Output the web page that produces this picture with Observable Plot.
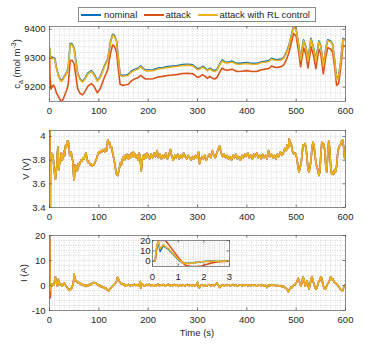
<!DOCTYPE html>
<html><head><meta charset="utf-8">
<script src="https://cdn.jsdelivr.net/npm/d3@7"></script>
<script src="https://cdn.jsdelivr.net/npm/@observablehq/plot@0.6"></script>
<style>
body{margin:0;background:#fff;}
#root{position:relative;width:381px;height:349px;font-family:"Liberation Sans",Arial,sans-serif;color:#262626;overflow:hidden;}
#root svg{position:absolute;}
.ylab{position:absolute;font-size:9.5px;white-space:nowrap;transform:translate(-50%,-50%) rotate(-90deg);line-height:1;}
.lab{position:absolute;font-size:9.5px;white-space:nowrap;line-height:1;}
#legend{position:absolute;left:78px;top:7px;width:236px;height:13px;border:1px solid #8a8a8a;background:#fff;}
#legend .sw{position:absolute;top:6px;width:20px;height:2px;}
#legend .tx{position:absolute;top:1.5px;font-size:9.5px;white-space:nowrap;line-height:1;}
</style></head><body><div id="root"></div>
<script>
// ---------- series ----------
const seriesNames = ["nominal", "attack", "attack with RL control"];
const seriesColors = ["#0072BD", "#D95319", "#EDB120"];

// ---------- panel 1: c_a ----------
const caTime = [0,1,3,6,8,11,14,18,22,25,30,35,38,42,46,50,53,57,62,67,72,78,85,90,97,103,110,118,124,128,132,136,139,143,148,155,160,165,170,175,180,185,190,195,200,210,220,230,240,250,260,270,280,290,295,300,305,310,315,320,325,330,335,340,345,350,355,360,365,370,380,390,400,410,420,430,440,445,450,455,460,470,475,480,485,490,495,500,505,509,515,520,524,530,535,540,546,550,555,560,564,570,574,578,582,586,590,595,600];
const caNominal = [9336,9313,9303,9303,9302,9299,9268,9242,9226,9223,9237,9251,9268,9352,9349,9334,9297,9249,9228,9220,9231,9249,9257,9246,9223,9237,9268,9297,9360,9383,9378,9360,9309,9244,9240,9242,9244,9254,9259,9263,9266,9274,9265,9259,9259,9260,9266,9268,9271,9273,9275,9278,9279,9277,9271,9263,9266,9272,9267,9259,9266,9260,9257,9263,9280,9294,9288,9286,9288,9290,9282,9283,9285,9282,9282,9288,9290,9292,9300,9297,9295,9297,9303,9320,9343,9378,9412,9401,9348,9297,9364,9338,9294,9369,9338,9292,9360,9343,9274,9333,9364,9360,9349,9293,9228,9238,9286,9369,9364];
const caAttack = [9334,9240,9193,9203,9207,9198,9180,9168,9155,9148,9168,9190,9210,9292,9293,9280,9245,9195,9178,9173,9185,9203,9212,9203,9180,9195,9228,9260,9320,9346,9340,9320,9270,9210,9206,9208,9210,9220,9226,9230,9233,9241,9233,9228,9228,9229,9235,9237,9240,9242,9244,9247,9248,9246,9241,9233,9237,9243,9238,9230,9237,9231,9228,9234,9252,9266,9260,9258,9260,9262,9254,9255,9257,9254,9254,9260,9263,9265,9273,9270,9268,9271,9277,9294,9317,9352,9386,9376,9322,9270,9337,9311,9266,9341,9310,9264,9332,9315,9246,9305,9336,9332,9320,9268,9206,9212,9262,9345,9340];
const caRL = [9334,9310,9299,9300,9299,9296,9265,9239,9223,9220,9234,9248,9265,9349,9346,9331,9294,9246,9225,9217,9228,9246,9254,9243,9220,9234,9265,9294,9357,9380,9375,9357,9306,9241,9237,9239,9241,9251,9256,9260,9263,9271,9262,9256,9256,9257,9263,9265,9268,9270,9272,9275,9276,9274,9268,9260,9263,9269,9264,9256,9263,9257,9254,9260,9277,9291,9285,9283,9285,9287,9279,9280,9282,9279,9279,9285,9287,9289,9297,9294,9292,9294,9300,9317,9340,9375,9409,9398,9345,9294,9361,9335,9291,9366,9335,9289,9357,9340,9271,9330,9361,9357,9346,9290,9225,9235,9283,9366,9361];
const caTicks = [9200, 9300, 9400];

// ---------- panel 2: V ----------
const vStartTime = [0, 0.3, 0.7, 1.2, 1.6, 2];
const vStartNominal = [3.85, 4.5, 4.15, 3.25, 3.3, 3.85];
const vStartAttack = [3.85, 4.6, 4.6, 3.1, 3.1, 3.85];
const vStartRL = [3.85, 4.5, 4.2, 3.2, 3.3, 3.85];
const vTail = [[3,3.83],[4,3.86],[5,3.82],[6,3.80],[7,3.84],[8,3.79],[9,3.74],[10,3.70],[11,3.66],[12,3.64],[13,3.68],[14,3.72],[15,3.76],[16,3.86],[17,3.91],[18,3.80],[19,3.72],[20,3.76],[21,3.80],[22,3.78],[23,3.83],[24,3.86],[25,3.84],[26,3.80],[27,3.85],[28,3.82],[29,3.86],[30,3.88],[31,3.84],[32,3.91],[33,3.93],[34,3.90],[35,3.94],[36,3.96],[37,3.95],[38,3.96],[39,3.93],[40,3.88],[41,3.84],[42,3.86],[43,3.84],[44,3.87],[45,3.83],[46,3.81],[47,3.80],[48,3.74],[49,3.66],[50,3.63],[51,3.70],[52,3.76],[53,3.72],[54,3.75],[55,3.71],[56,3.74],[57,3.72],[58,3.77],[60,3.75],[62,3.78],[64,3.80],[66,3.79],[68,3.82],[70,3.81],[72,3.84],[74,3.86],[76,3.81],[78,3.78],[80,3.79],[82,3.76],[84,3.77],[86,3.75],[88,3.76],[90,3.76],[92,3.78],[94,3.80],[96,3.82],[98,3.85],[100,3.87],[102,3.86],[104,3.88],[106,3.87],[108,3.89],[110,3.88],[112,3.87],[114,3.90],[116,3.88],[118,3.97],[120,3.94],[122,3.95],[124,3.90],[126,3.91],[128,3.86],[130,3.82],[132,3.78],[134,3.72],[136,3.68],[138,3.67],[140,3.70],[142,3.74],[144,3.78],[146,3.76],[148,3.81],[150,3.83],[152,3.80],[154,3.84],[156,3.82],[158,3.85],[160,3.81],[162,3.84],[164,3.82],[166,3.86],[168,3.83],[170,3.87],[172,3.83],[174,3.85],[176,3.82],[178,3.84],[180,3.80],[182,3.86],[184,3.80],[186,3.71],[188,3.80],[190,3.84],[192,3.81],[194,3.85],[196,3.82],[198,3.86],[200,3.83],[203,3.81],[206,3.85],[209,3.82],[212,3.86],[215,3.83],[218,3.88],[221,3.82],[224,3.85],[227,3.81],[230,3.84],[233,3.82],[236,3.86],[239,3.81],[242,3.84],[245,3.89],[248,3.83],[251,3.80],[254,3.84],[257,3.82],[260,3.85],[263,3.81],[266,3.84],[269,3.82],[272,3.86],[275,3.83],[278,3.81],[281,3.84],[284,3.82],[287,3.80],[290,3.83],[293,3.81],[296,3.84],[299,3.82],[302,3.87],[304,3.77],[306,3.80],[309,3.83],[312,3.81],[315,3.84],[318,3.80],[321,3.83],[324,3.85],[327,3.82],[330,3.88],[333,3.84],[336,3.82],[339,3.86],[342,3.89],[345,3.92],[348,3.86],[351,3.83],[354,3.85],[357,3.82],[360,3.84],[363,3.81],[366,3.83],[369,3.80],[372,3.84],[375,3.82],[378,3.85],[381,3.81],[384,3.83],[387,3.80],[390,3.84],[393,3.82],[396,3.85],[399,3.83],[402,3.86],[405,3.82],[408,3.84],[411,3.81],[414,3.85],[417,3.83],[420,3.86],[423,3.82],[426,3.84],[429,3.81],[432,3.85],[435,3.82],[438,3.84],[441,3.81],[444,3.88],[447,3.83],[450,3.85],[453,3.82],[456,3.84],[459,3.81],[462,3.85],[465,3.83],[468,3.87],[471,3.84],[474,3.86],[477,3.90],[480,3.88],[482,3.93],[484,3.90],[486,3.98],[488,3.92],[490,3.94],[492,3.88],[494,3.86],[496,3.85],[498,3.86],[500,3.84],[502,3.80],[504,3.73],[506,3.70],[508,3.74],[510,3.77],[512,3.85],[514,3.93],[516,3.92],[518,3.94],[520,3.90],[522,3.82],[524,3.72],[526,3.70],[528,3.74],[530,3.80],[532,3.90],[534,3.95],[536,3.93],[538,3.85],[540,3.78],[542,3.74],[544,3.72],[546,3.67],[548,3.70],[550,3.85],[552,3.95],[554,3.93],[556,3.94],[558,3.88],[560,3.75],[562,3.70],[564,3.85],[566,3.96],[568,3.90],[570,3.74],[572,3.68],[574,3.70],[576,3.68],[578,3.72],[580,3.70],[582,3.75],[584,3.85],[586,3.90],[588,3.92],[590,3.93],[592,3.96],[594,3.97],[596,3.92],[598,3.82],[600,3.84]];
const vTicks = [3.4, 3.6, 3.8, 4];

// ---------- panel 3: I (first 3 s also shown in the inset) ----------
const iStartTime = [0,0.1,0.15,0.22,0.3,0.35,0.42,0.5,0.6,0.8,1.0,1.15,1.3,1.5,1.7,1.9,2.1,2.3,2.5,2.8,3];
const iStartNominal = [0,0,11,19,9.5,12,15,13.5,12,7,1.5,-1,-2,-1.8,-1,-0.4,0,0.2,0.1,0,0];
const iStartAttack = [0,0,10,20,20,20,20,20,17,10.5,4,-0.5,-4,-5,-5,-4.5,-3,-1.5,-0.6,-0.1,0];
const iStartRL = [0,0,12,20,12,14,16,14,12.5,7.5,2,-0.8,-2,-2,-1.2,-0.5,-0.2,0,0,0,0];
const iTail = [[4,0.3],[5,0.6],[6,-0.2],[7,0.4],[8,0.1],[9,0.8],[10,1.2],[11,2.8],[12,3.5],[13,2.2],[14,1.5],[15,0.3],[16,-0.2],[17,0.8],[18,2.5],[19,1.2],[20,0.6],[21,0.9],[22,0.2],[24,0.5],[26,-0.3],[28,0.6],[30,1.0],[32,0.4],[34,-0.4],[36,-0.8],[38,-1.5],[40,-2.0],[42,-1.2],[44,-1.6],[46,-0.5],[48,0.8],[49,2.0],[50,4.5],[51,3.2],[52,2.4],[54,1.8],[56,1.5],[58,1.0],[60,1.2],[62,0.6],[64,0.8],[66,0.2],[68,0.4],[70,-0.1],[72,0.2],[74,-0.4],[76,0.1],[78,-0.2],[80,0.2],[82,0.5],[84,0.3],[86,0.8],[88,1.0],[90,1.2],[92,0.9],[94,1.1],[96,0.5],[98,0.2],[100,-0.2],[102,0.1],[104,-0.5],[106,-0.3],[108,-0.8],[110,-0.6],[112,-1.2],[114,-0.9],[116,-1.5],[118,-1.8],[120,-2.2],[122,-1.5],[124,-1.0],[126,-0.6],[128,-0.2],[130,0.2],[132,0.6],[134,1.0],[136,1.8],[138,3.3],[140,2.4],[142,1.5],[144,1.0],[146,0.5],[148,0.8],[150,0.2],[152,0.5],[154,-0.2],[156,0.3],[158,0.0],[160,0.4],[163,-0.2],[166,0.3],[169,-0.1],[172,0.5],[175,0.0],[178,0.3],[181,-0.3],[184,1.6],[185,-1.0],[187,0.8],[190,0.1],[193,-0.3],[196,0.4],[199,0.0],[202,0.5],[205,-0.2],[208,0.3],[211,-0.3],[214,0.2],[217,-0.1],[220,0.6],[223,-0.2],[226,0.3],[229,0.0],[232,0.4],[235,-0.3],[238,0.2],[241,0.5],[244,-0.3],[247,0.3],[250,-0.1],[253,0.4],[256,0.0],[259,0.3],[262,-0.4],[265,0.2],[268,-0.1],[271,0.3],[274,-0.2],[277,0.1],[280,0.4],[283,-0.1],[286,0.3],[289,-0.2],[292,0.2],[295,-0.1],[298,0.4],[300,1.3],[302,-0.6],[304,-1.0],[306,0.0],[309,0.3],[312,-0.2],[315,0.2],[318,-0.3],[321,0.1],[324,0.4],[327,-0.2],[330,0.2],[333,-0.1],[336,0.3],[339,1.0],[342,0.2],[345,-0.8],[348,0.0],[351,0.3],[354,-0.2],[357,0.2],[360,0.0],[363,0.3],[366,-0.2],[369,0.1],[372,0.4],[375,-0.1],[378,0.2],[381,-0.3],[384,0.1],[387,0.3],[390,-0.2],[393,0.2],[396,0.0],[399,0.3],[402,-0.2],[405,0.2],[408,-0.1],[411,0.3],[414,0.0],[417,0.2],[420,-0.3],[423,0.1],[426,0.3],[429,-0.1],[432,0.2],[435,-0.2],[438,0.1],[441,-0.8],[444,0.2],[447,-0.1],[450,0.3],[453,0.0],[456,0.2],[459,-0.2],[462,0.1],[465,-0.3],[468,0.0],[471,-0.6],[474,-0.2],[477,-0.8],[480,-1.2],[482,-1.6],[484,-2.5],[486,-1.8],[488,-1.2],[490,-0.5],[492,-0.8],[494,0.0],[496,0.4],[498,0.2],[500,1.0],[502,1.8],[504,2.9],[506,2.0],[508,0.5],[510,-0.2],[512,1.5],[514,3.5],[516,2.2],[518,-0.3],[520,0.5],[522,2.0],[524,0.3],[526,-1.5],[528,0.2],[530,2.5],[532,3.6],[534,2.0],[536,0.5],[538,-0.8],[540,-1.5],[542,-1.0],[544,0.5],[546,1.8],[548,2.0],[550,3.5],[552,3.0],[554,0.6],[556,-0.8],[558,-1.5],[560,-1.2],[562,-0.2],[564,0.8],[566,1.2],[568,2.2],[570,3.5],[572,2.4],[574,2.8],[576,1.8],[578,1.2],[580,1.0],[582,0.5],[584,0.2],[586,-0.5],[588,-1.0],[590,-1.6],[592,-1.8],[594,-2.2],[596,-1.0],[598,0.0],[600,0.4]];
const iTicks = [-10, 0, 10, 20];

const xTicks = [0, 100, 200, 300, 400, 500, 600];
const insetXTicks = [0, 1, 2, 3];
const insetYTicks = [0, 10, 20];

// ---------- helpers ----------
const rowsOf = (time, values) => time.map((t, i) => ({t, v: values[i]}));
const tailRows = (pairs) => pairs.map(([t, v]) => ({t, v}));

function makePanel(o) {
  const ph = o.height - o.mt - o.mb, pw = o.width - o.ml - o.mr;
  const grid = {stroke: "#c9c9c9", strokeWidth: 0.7, strokeDasharray: "1,1.4"};
  const marks = [];
  if (o.fill) marks.push(Plot.frame({fill: o.fill, stroke: null}));
  marks.push(Plot.ruleX(o.xGrid, {x: d => d, ...grid}));
  marks.push(Plot.ruleY(o.yGrid, {y: d => d, ...grid}));
  o.lines.forEach(l => marks.push(Plot.line(l.rows, {x: "t", y: "v", stroke: l.color, strokeWidth: o.lw, clip: true})));
  marks.push(Plot.frame({stroke: "#808080", strokeWidth: 0.9}));
  const tk = {stroke: "#555", strokeWidth: 0.8};
  marks.push(Plot.tickX(o.xTicks, {x: d => d, ...tk, insetTop: ph - 2.5}));
  marks.push(Plot.tickX(o.xTicks, {x: d => d, ...tk, insetBottom: ph - 2.5}));
  marks.push(Plot.tickY(o.yTicks, {y: d => d, ...tk, insetRight: pw - 2.5}));
  marks.push(Plot.tickY(o.yTicks, {y: d => d, ...tk, insetLeft: pw - 2.5}));
  marks.push(Plot.axisX({ticks: o.xTicks, tickSize: 0, tickPadding: o.padX, tickFormat: d => String(d), label: null}));
  marks.push(Plot.axisY({ticks: o.yTicks, tickSize: 0, tickPadding: o.padY, tickFormat: d => String(d), label: null}));
  const svg = Plot.plot({
    width: o.width, height: o.height,
    marginTop: o.mt, marginBottom: o.mb, marginLeft: o.ml, marginRight: o.mr,
    x: {domain: o.xDomain, label: null}, y: {domain: o.yDomain, label: null},
    style: {fontFamily: "Liberation Sans, Arial, sans-serif", fontSize: "9.5px", color: "#262626", background: "transparent", overflow: "visible"},
    marks
  });
  svg.style.left = o.left + "px";
  svg.style.top = o.top + "px";
  return svg;
}

const root = document.getElementById("root");
const mainX = d3.range(0, 601, 10);

// panel 1
root.appendChild(makePanel({
  left: 0, top: 0, width: 381, height: 120, mt: 26, mb: 19, ml: 49, mr: 36,
  xDomain: [0, 600], yDomain: [9150, 9410], xTicks, yTicks: caTicks,
  xGrid: mainX, yGrid: d3.range(9160, 9401, 20), padX: 5.5, padY: 4, lw: 1.6,
  lines: [
    {rows: rowsOf(caTime, caNominal), color: seriesColors[0]},
    {rows: rowsOf(caTime, caAttack), color: seriesColors[1]},
    {rows: rowsOf(caTime, caRL), color: seriesColors[2]}
  ]
}));

// panel 2
root.appendChild(makePanel({
  left: 0, top: 120, width: 381, height: 105, mt: 10, mb: 18, ml: 49, mr: 36,
  xDomain: [0, 600], yDomain: [3.4, 4.05], xTicks, yTicks: vTicks,
  xGrid: mainX, yGrid: d3.range(3.4, 4.051, 0.05), padX: 5.5, padY: 4, lw: 1.6,
  lines: [
    {rows: rowsOf(vStartTime, vStartNominal).concat(tailRows(vTail)), color: seriesColors[0]},
    {rows: rowsOf(vStartTime, vStartAttack).concat(tailRows(vTail)), color: seriesColors[1]},
    {rows: rowsOf(vStartTime, vStartRL).concat(tailRows(vTail)), color: seriesColors[2]}
  ]
}));

// panel 3
root.appendChild(makePanel({
  left: 0, top: 225, width: 381, height: 124, mt: 10, mb: 39, ml: 49, mr: 36,
  xDomain: [0, 600], yDomain: [-10, 20], xTicks, yTicks: iTicks,
  xGrid: mainX, yGrid: d3.range(-10, 20.01, 2), padX: 5.5, padY: 4, lw: 1.6,
  lines: [
    {rows: rowsOf(iStartTime, iStartNominal).concat(tailRows(iTail)), color: seriesColors[0]},
    {rows: rowsOf(iStartTime, iStartAttack).concat(tailRows(iTail)), color: seriesColors[1]},
    {rows: rowsOf(iStartTime, iStartRL).concat(tailRows(iTail)), color: seriesColors[2]}
  ]
}));

// inset
root.appendChild(makePanel({
  left: 130, top: 232, width: 110, height: 52, mt: 8, mb: 18, ml: 22, mr: 11,
  xDomain: [0, 3], yDomain: [-5, 20], xTicks: insetXTicks, yTicks: insetYTicks,
  xGrid: d3.range(0, 3.01, 0.2), yGrid: d3.range(-4, 20.01, 2), padX: 6.5, padY: 2, lw: 1.6, fill: "white",
  lines: [
    {rows: rowsOf(iStartTime, iStartNominal), color: seriesColors[0]},
    {rows: rowsOf(iStartTime, iStartAttack), color: seriesColors[1]},
    {rows: rowsOf(iStartTime, iStartRL), color: seriesColors[2]}
  ]
}));

// axis titles
function addLabel(html, x, y, cls) {
  const d = document.createElement("div");
  d.className = cls; d.innerHTML = html;
  d.style.left = x + "px"; d.style.top = y + "px";
  root.appendChild(d);
  return d;
}
addLabel("c<sub style='font-size:7px'>a</sub> (mol m<sup style='font-size:7px'>-3</sup>)", 16.5, 64, "ylab");
addLabel("V (V)", 26, 169, "ylab");
addLabel("I (A)", 24, 273, "ylab");
const tl = addLabel("Time (s)", 197, 333, "lab");
tl.style.transform = "translate(-50%,-50%)";

// legend
const lg = document.createElement("div");
lg.id = "legend";
const swLeft = [1.5, 65, 119];
const txLeft = [25, 86.5, 140.5];
seriesNames.forEach((name, i) => {
  const s = document.createElement("div");
  s.className = "sw"; s.style.left = swLeft[i] + "px"; s.style.background = seriesColors[i];
  lg.appendChild(s);
  const t = document.createElement("div");
  t.className = "tx"; t.style.left = txLeft[i] + "px"; t.textContent = name;
  lg.appendChild(t);
});
root.appendChild(lg);
</script></body></html>
